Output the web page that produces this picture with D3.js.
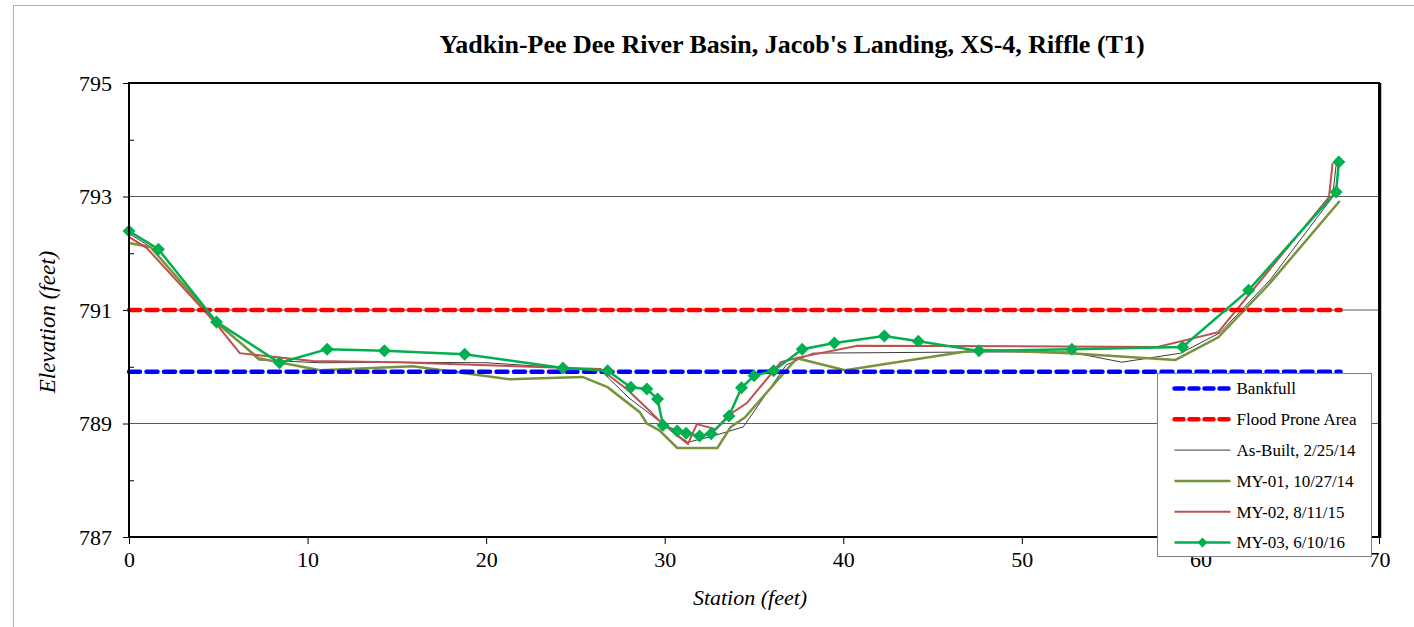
<!DOCTYPE html>
<html>
<head>
<meta charset="utf-8">
<script src="https://cdn.jsdelivr.net/npm/d3@7"></script>
<style>
  body { margin: 0; background: #fff; }
  text { font-family: "Liberation Serif", "Times New Roman", serif; fill: #000; }
</style>
</head>
<body>
<div id="chart"></div>
<script>
// survey data
var asBuiltStation = [0, 1.2, 4.9, 7.25, 10.7, 15.2, 20.0, 26.4, 28.0, 30.7, 31.3, 32.6, 34.4, 36.8, 38.3, 47.5, 52.7, 55.6, 58.9, 61.1, 63.9, 67.4, 67.6];
var asBuiltElev    = [792.35, 792.11, 790.8, 790.12, 790.07, 790.08, 790.07, 789.94, 789.45, 788.8, 788.67, 788.77, 788.94, 790.03, 790.24, 790.26, 790.26, 790.08, 790.24, 790.6, 791.53, 792.99, 793.56];

var my01Station = [0, 1.2, 4.9, 7.25, 10.7, 15.9, 21.3, 25.4, 26.8, 28.6, 29.0, 29.7, 30.7, 32.95, 33.7, 34.5, 37.4, 40.1, 47.5, 52.7, 58.6, 61.0, 63.8, 67.8];
var my01Elev    = [792.18, 792.11, 790.78, 790.15, 789.94, 790.01, 789.78, 789.82, 789.64, 789.2, 789.0, 788.88, 788.57, 788.57, 788.94, 789.11, 790.15, 789.94, 790.3, 790.24, 790.12, 790.52, 791.44, 792.92];

var my02Station = [0, 1.0, 4.9, 6.2, 10.3, 15.0, 26.4, 27.9, 28.9, 29.7, 30.7, 31.3, 31.8, 32.85, 33.6, 34.6, 36.5, 37.6, 40.8, 57.6, 61.0, 67.2, 67.4];
var my02Elev    = [792.29, 792.09, 790.75, 790.24, 790.1, 790.08, 789.96, 789.6, 789.3, 789.05, 788.79, 788.64, 788.99, 788.9, 789.15, 789.36, 790.08, 790.17, 790.37, 790.35, 790.61, 792.99, 793.59];

var my03Station = [0, 1.65, 4.9, 8.43, 11.1, 14.3, 18.8, 24.3, 26.8, 28.1, 29.0, 29.6, 29.9, 30.7, 31.2, 31.95, 32.6, 33.6, 34.3, 35.0, 36.1, 37.7, 39.5, 42.3, 44.2, 47.6, 52.8, 59.0, 62.7, 67.6, 67.75];
var my03Elev    = [792.39, 792.07, 790.79, 790.07, 790.31, 790.28, 790.22, 789.98, 789.93, 789.64, 789.61, 789.43, 788.97, 788.87, 788.83, 788.78, 788.82, 789.13, 789.63, 789.84, 789.93, 790.31, 790.42, 790.54, 790.45, 790.28, 790.31, 790.35, 791.35, 793.08, 793.61];

var bankfullElev = 789.91;
var floodProneElev = 791.0;
var levelStations = [0, 67.85];

var xTicks = [0, 10, 20, 30, 40, 50, 60, 70];
var yTicks = [787, 789, 791, 793, 795];
var yMinorTicks = [788, 790, 792, 794];

var W = 1414, H = 627;
var margin = {top: 83, left: 129},
    width = 1379 - margin.left,
    height = 537 - margin.top;

var svg = d3.select("#chart").append("svg")
    .attr("width", W)
    .attr("height", H);

// outer chart frame
svg.append("rect")
    .attr("x", 13.5).attr("y", 5.5)
    .attr("width", W).attr("height", H)
    .style("fill", "none")
    .style("stroke", "#b0b0b0");

var g = svg.append("g")
    .attr("transform", "translate(" + margin.left + "," + margin.top + ")");

var x = d3.scaleLinear().domain([0, 70]).range([0, width]);
var y = d3.scaleLinear().domain([787, 795]).range([height, 0]);

// gridlines
g.selectAll(".grid")
    .data([789, 791, 793])
    .enter().append("line")
    .attr("x1", 0).attr("x2", width)
    .attr("y1", function(d) { return y(d); })
    .attr("y2", function(d) { return y(d); })
    .style("stroke", "#5a5a5a")
    .style("stroke-width", 1);

// axes
var yAxis = g.append("g")
    .call(d3.axisLeft(y).tickValues(yTicks).tickSize(6));
yAxis.select(".domain").remove();
yAxis.selectAll("text")
    .attr("x", -17)
    .style("font-size", "22px");

// minor ticks point inward
var yMinor = g.append("g")
    .call(d3.axisRight(y).tickValues(yMinorTicks).tickSize(5).tickFormat(""));
yMinor.select(".domain").remove();

var xAxis = g.append("g")
    .attr("transform", "translate(0," + height + ")")
    .call(d3.axisBottom(x).tickValues(xTicks).tickSize(7));
xAxis.select(".domain").remove();
xAxis.selectAll("text")
    .attr("y", 14)
    .style("font-size", "22px");

// reference levels
function levelLine(elev, color) {
  g.append("line")
      .attr("x1", x(levelStations[0])).attr("x2", x(levelStations[1]))
      .attr("y1", y(elev)).attr("y2", y(elev))
      .style("stroke", color)
      .style("stroke-width", 4.5)
      .style("stroke-dasharray", "11,6.5")
      .style("stroke-linecap", "round");
}

var line = d3.line()
    .x(function(d) { return x(d[0]); })
    .y(function(d) { return y(d[1]); });

function zip(a, b) { return a.map(function(v, i) { return [v, b[i]]; }); }

g.append("path")
    .datum(zip(asBuiltStation, asBuiltElev))
    .attr("d", line)
    .style("fill", "none").style("stroke", "#3c3c3c").style("stroke-width", 1);

g.append("path")
    .datum(zip(my01Station, my01Elev))
    .attr("d", line)
    .style("fill", "none").style("stroke", "#77933C").style("stroke-width", 2.5);

g.append("path")
    .datum(zip(my02Station, my02Elev))
    .attr("d", line)
    .style("fill", "none").style("stroke", "#C0504D").style("stroke-width", 2);

levelLine(floodProneElev, "#FF0000");
levelLine(bankfullElev, "#0000FF");

var my03 = zip(my03Station, my03Elev);
g.append("path")
    .datum(my03)
    .attr("d", line)
    .style("fill", "none").style("stroke", "#00B050").style("stroke-width", 2.5);

function diamond(r) {
  return "M0," + (-r) + "L" + r + ",0L0," + r + "L" + (-r) + ",0Z";
}

g.selectAll(".pt")
    .data(my03)
    .enter().append("path")
    .attr("class", "pt")
    .attr("transform", function(d) { return "translate(" + x(d[0]) + "," + y(d[1]) + ")"; })
    .attr("d", diamond(6.5))
    .style("fill", "#00B050");

// plot border
g.append("rect")
    .attr("width", width).attr("height", height)
    .style("fill", "none")
    .style("stroke", "#000")
    .style("stroke-width", 2);
g.append("line")
    .attr("x1", width + 1.5).attr("x2", width + 1.5)
    .attr("y1", 0).attr("y2", height + 1)
    .style("stroke", "#000").style("stroke-width", 1.5);

// title and axis titles
svg.append("text")
    .attr("x", 792).attr("y", 53)
    .attr("text-anchor", "middle")
    .style("font-size", "26px")
    .style("font-weight", "bold")
    .text("Yadkin-Pee Dee River Basin, Jacob's Landing, XS-4, Riffle (T1)");

svg.append("text")
    .attr("transform", "translate(55,322) rotate(-90)")
    .attr("text-anchor", "middle")
    .style("font-size", "23px")
    .style("font-style", "italic")
    .text("Elevation (feet)");

svg.append("text")
    .attr("x", 750).attr("y", 605)
    .attr("text-anchor", "middle")
    .style("font-size", "22px")
    .style("font-style", "italic")
    .text("Station (feet)");

// legend
var legendItems = [
  {name: "Bankfull", color: "#0000FF", w: 4.5, dash: "9,6", marker: false},
  {name: "Flood Prone Area", color: "#FF0000", w: 4.5, dash: "9,6", marker: false},
  {name: "As-Built, 2/25/14", color: "#3c3c3c", w: 1, dash: null, marker: false},
  {name: "MY-01, 10/27/14", color: "#77933C", w: 2.5, dash: null, marker: false},
  {name: "MY-02, 8/11/15", color: "#C0504D", w: 2, dash: null, marker: false},
  {name: "MY-03, 6/10/16", color: "#00B050", w: 2.5, dash: null, marker: true}
];

var lg = svg.append("g").attr("transform", "translate(1157.5,373.5)");
lg.append("rect")
    .attr("width", 214).attr("height", 183)
    .style("fill", "#fff")
    .style("stroke", "#808080");

var item = lg.selectAll(".legend")
    .data(legendItems)
    .enter().append("g")
    .attr("class", "legend")
    .attr("transform", function(d, i) { return "translate(0," + (15 + i * 30.8) + ")"; });

item.append("line")
    .attr("x1", 17).attr("x2", 73)
    .style("stroke", function(d) { return d.color; })
    .style("stroke-width", function(d) { return d.w; })
    .style("stroke-dasharray", function(d) { return d.dash; })
    .style("stroke-linecap", function(d) { return d.dash ? "round" : "butt"; });

item.filter(function(d) { return d.marker; })
    .append("path")
    .attr("transform", "translate(45,0)")
    .attr("d", diamond(5))
    .style("fill", "#00B050");

item.append("text")
    .attr("x", 79)
    .attr("dy", "0.35em")
    .style("font-size", "17px")
    .text(function(d) { return d.name; });
</script>
</body>
</html>
